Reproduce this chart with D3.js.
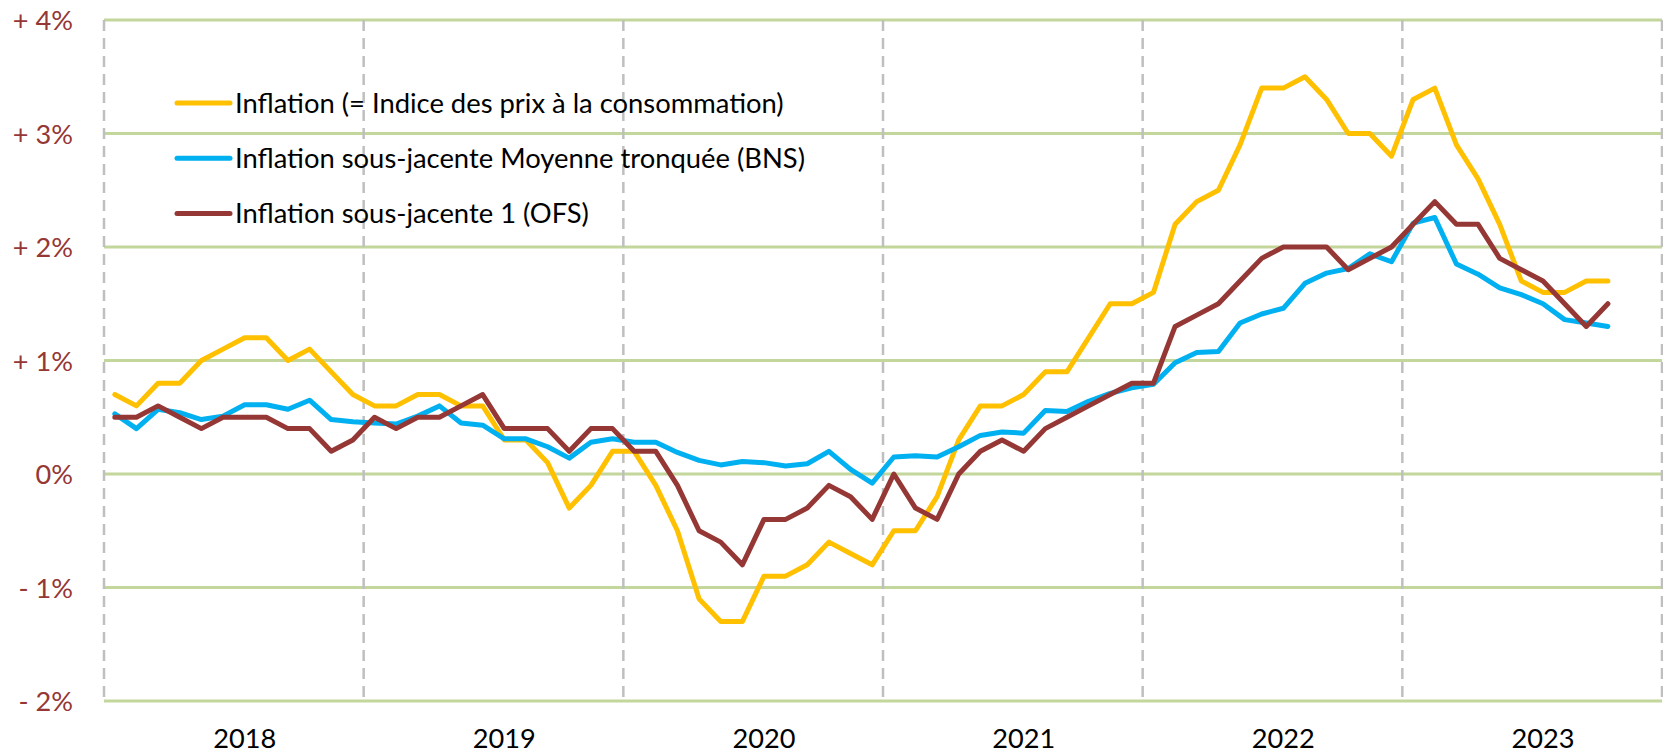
<!DOCTYPE html>
<html>
<head>
<meta charset="utf-8">
<script src="https://cdnjs.cloudflare.com/ajax/libs/d3/7.8.5/d3.min.js"></script>
<style>
  html, body { margin: 0; padding: 0; background: #fff; }
  svg { display: block; }
</style>
</head>
<body>
<div id="graph"></div>
<script>
// categories and tick labels
const years = ["2018", "2019", "2020", "2021", "2022", "2023"];
const yTicks = [4, 3, 2, 1, 0, -1, -2];
const yTickLabels = ["+ 4%", "+ 3%", "+ 2%", "+ 1%", "0%", "- 1%", "- 2%"];

const seriesNames = [
    "Inflation (= Indice des prix à la consommation)",
    "Inflation sous-jacente Moyenne tronquée (BNS)",
    "Inflation sous-jacente 1 (OFS)"
];
const seriesColors = ["#FFC000", "#00B0F0", "#953735"];

// monthly values, Jan 2018 - Oct 2023 (%)
const cpi = [
    0.7, 0.6, 0.8, 0.8, 1.0, 1.1, 1.2, 1.2, 1.0, 1.1, 0.9, 0.7,
    0.6, 0.6, 0.7, 0.7, 0.6, 0.6, 0.3, 0.3, 0.1, -0.3, -0.1, 0.2,
    0.2, -0.1, -0.5, -1.1, -1.3, -1.3, -0.9, -0.9, -0.8, -0.6, -0.7, -0.8,
    -0.5, -0.5, -0.2, 0.3, 0.6, 0.6, 0.7, 0.9, 0.9, 1.2, 1.5, 1.5,
    1.6, 2.2, 2.4, 2.5, 2.9, 3.4, 3.4, 3.5, 3.3, 3.0, 3.0, 2.8,
    3.3, 3.4, 2.9, 2.6, 2.2, 1.7, 1.6, 1.6, 1.7, 1.7
];
const trimmedMean = [
    0.53, 0.40, 0.57, 0.54, 0.48, 0.51, 0.61, 0.61, 0.57, 0.65, 0.48, 0.46,
    0.45, 0.44, 0.51, 0.60, 0.45, 0.43, 0.31, 0.31, 0.24, 0.14, 0.28, 0.31,
    0.28, 0.28, 0.19, 0.12, 0.08, 0.11, 0.10, 0.07, 0.09, 0.20, 0.04, -0.08,
    0.15, 0.16, 0.15, 0.24, 0.34, 0.37, 0.36, 0.56, 0.55, 0.64, 0.71, 0.76,
    0.79, 0.98, 1.07, 1.08, 1.33, 1.41, 1.46, 1.68, 1.77, 1.81, 1.94, 1.87,
    2.21, 2.26, 1.85, 1.76, 1.64, 1.58, 1.50, 1.36, 1.33, 1.30
];
const core1 = [
    0.5, 0.5, 0.6, 0.5, 0.4, 0.5, 0.5, 0.5, 0.4, 0.4, 0.2, 0.3,
    0.5, 0.4, 0.5, 0.5, 0.6, 0.7, 0.4, 0.4, 0.4, 0.2, 0.4, 0.4,
    0.2, 0.2, -0.1, -0.5, -0.6, -0.8, -0.4, -0.4, -0.3, -0.1, -0.2, -0.4,
    0.0, -0.3, -0.4, 0.0, 0.2, 0.3, 0.2, 0.4, 0.5, 0.6, 0.7, 0.8,
    0.8, 1.3, 1.4, 1.5, 1.7, 1.9, 2.0, 2.0, 2.0, 1.8, 1.9, 2.0,
    2.2, 2.4, 2.2, 2.2, 1.9, 1.8, 1.7, 1.5, 1.3, 1.5
];

const months = years.flatMap(y => d3.range(1, 13).map(m => `${y}-${String(m).padStart(2, "0")}`));
const allSeries = [cpi, trimmedMean, core1];

const totalWidth = 1663, totalHeight = 755;
const margin = { top: 20, right: 1, bottom: 54, left: 104 };
const width = totalWidth - margin.left - margin.right;
const height = totalHeight - margin.top - margin.bottom;
const font = "Lato, 'Open Sans', sans-serif";

const svg = d3.select("#graph")
    .append("svg")
    .attr("width", totalWidth)
    .attr("height", totalHeight)
    .style("background", "#fff");

// fit a font size so a string gets the width of the original Calibri text
function fitSize(str, target) {
    const t = svg.append("text").attr("font-family", font).attr("font-size", 100).text(str);
    const w = t.node().getComputedTextLength();
    t.remove();
    return 100 * target / w;
}
const legendSize = fitSize(seriesNames[0], 549);
const tickSize = fitSize("2018", 63);

const g = svg.append("g").attr("transform", `translate(${margin.left}, ${margin.top})`);

const x = d3.scaleBand().domain(months).range([0, width]).padding(0);
const y = d3.scaleLinear().domain([-2, 4]).range([height, 0]);
const cx = i => x(months[i]) + x.bandwidth() / 2;

// horizontal gridlines
g.append("g")
    .selectAll("line")
    .data(yTicks)
    .join("line")
    .attr("x1", 0).attr("x2", width)
    .attr("y1", d => y(d)).attr("y2", d => y(d))
    .attr("stroke", "#C3D69B")
    .attr("stroke-width", 3);

// dashed year separators
const yearBounds = years.map(yr => x(`${yr}-01`)).concat([width]);
g.append("g")
    .selectAll("line")
    .data(yearBounds)
    .join("line")
    .attr("x1", d => d).attr("x2", d => d)
    .attr("y1", 0).attr("y2", height)
    .attr("stroke", "#BFBFBF")
    .attr("stroke-width", 2.5)
    .attr("stroke-dasharray", "11,7");

// y axis labels
const yAxis = g.append("g")
    .call(d3.axisLeft(y).tickValues(yTicks).tickFormat((d, i) => yTickLabels[i]).tickSize(0).tickPadding(31));
yAxis.select(".domain").remove();
yAxis.selectAll("text")
    .attr("font-family", font)
    .attr("font-size", tickSize)
    .attr("fill", "#953735")
    .attr("dy", "0.36em");

// year labels, placed under the 7th month like the category axis
const xAxis = g.append("g")
    .attr("transform", `translate(0, ${height})`)
    .call(d3.axisBottom(x)
        .tickValues(years.map(yr => `${yr}-07`))
        .tickFormat(d => d.slice(0, 4))
        .tickSize(0)
        .tickPadding(0));
xAxis.select(".domain").remove();
xAxis.selectAll("text")
    .attr("font-family", font)
    .attr("font-size", tickSize)
    .attr("fill", "#000")
    .attr("dy", null)
    .attr("y", 47);

// lines
const line = d3.line()
    .x((d, i) => cx(i))
    .y(d => y(d));

allSeries.forEach((data, k) => {
    g.append("path")
        .datum(data)
        .attr("fill", "none")
        .attr("stroke", seriesColors[k])
        .attr("stroke-width", 5)
        .attr("stroke-linejoin", "round")
        .attr("stroke-linecap", "round")
        .attr("d", line);
});

// legend
const legend = svg.append("g").attr("transform", "translate(176, 103)");
const item = legend.selectAll("g")
    .data(seriesNames)
    .join("g")
    .attr("transform", (d, i) => `translate(0, ${i * 55.3})`);
item.append("line")
    .attr("x1", 1).attr("x2", 54)
    .attr("stroke", (d, i) => seriesColors[i])
    .attr("stroke-width", 5)
    .attr("stroke-linecap", "round");
item.append("text")
    .attr("x", 59)
    .attr("dy", "0.36em")
    .attr("font-family", font)
    .attr("font-size", legendSize)
    .attr("fill", "#000")
    .text(d => d);
</script>
</body>
</html>
